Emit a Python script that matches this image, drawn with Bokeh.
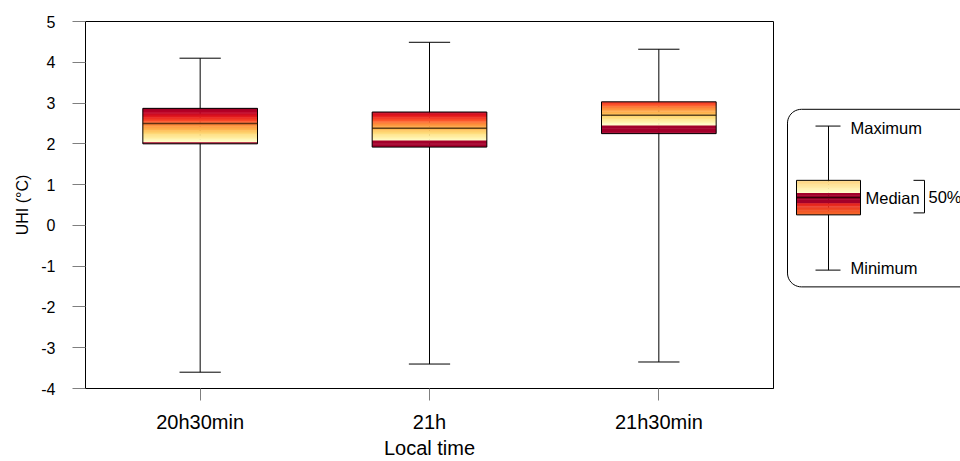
import numpy as np
from bokeh.plotting import figure
from bokeh.models import Range1d, FactorRange, FixedTicker, ColumnDataSource
from bokeh.transform import dodge
from bokeh.layouts import row
from bokeh.embed import file_html
from bokeh.resources import INLINE
from bokeh.core.properties import value

# ---------------- data ----------------
categories = ["20h30min", "21h", "21h30min"]
uhi_min = [-3.60, -3.40, -3.35]
uhi_q1 = [2.00, 1.92, 2.25]
uhi_median = [2.50, 2.38, 2.70]
uhi_q3 = [2.87, 2.78, 3.03]
uhi_max = [4.10, 4.49, 4.32]
y_ticks = [-4, -3, -2, -1, 0, 1, 2, 3, 4, 5]
y_tick_labels = ["-4", "-3", "-2", "-1", "0", "1", "2", "3", "4", "5"]
legend_labels = ["Maximum", "Median", "Minimum", "50%"]

# ---------------- styling ----------------
FONT_NAME = "Liberation Sans"
FONT = value(FONT_NAME)
PAL = ["#ffffcc", "#ffeda0", "#fed976", "#feb24c", "#fd8d3c",
       "#fc4e2a", "#e31a1c", "#bd0026", "#a00026"]
DARK = "#a3002b"
grad_reset = [2.05, 2.075, 2.46]   # level where the colour ramp restarts
GRAD_PERIOD = 0.82
TICK_GREY = "#7f7f7f"

MAIN_W, LEG_W, H = 780, 180, 461
FRAME_TOP, FRAME_BOTTOM = 21, 393


def hex2rgb(h):
    return tuple(int(h[i:i + 2], 16) for i in (1, 3, 5))


def mix(c1, c2, t):
    a, b = hex2rgb(c1), hex2rgb(c2)
    return "#%02x%02x%02x" % tuple(int(round(a[k] + (b[k] - a[k]) * t)) for k in range(3))


def ramp(t):
    t = min(max(t, 0.0), 1.0)
    pos = t * (len(PAL) - 1)
    i = min(int(np.floor(pos)), len(PAL) - 2)
    return mix(PAL[i], PAL[i + 1], pos - i)


def box_color(y, reset):
    if y < reset:
        return DARK
    return ramp((y - reset) / GRAD_PERIOD)


# ---------------- main plot ----------------
p = figure(width=MAIN_W, height=H, title=None,
           x_range=FactorRange(factors=categories, range_padding=0),
           y_range=Range1d(-4, 5),
           output_backend="svg", toolbar_location=None,
           min_border_left=85, min_border_right=7,
           min_border_top=FRAME_TOP, min_border_bottom=H - FRAME_BOTTOM)
p.xgrid.visible = False
p.ygrid.visible = False
p.outline_line_color = "black"
p.outline_line_width = 1
p.outline_line_alpha = 1
p.background_fill_color = "white"
p.border_fill_color = "white"

yax = p.yaxis[0]
yax.ticker = FixedTicker(ticks=y_ticks, minor_ticks=[])
yax.major_label_overrides = {t: l for t, l in zip(y_ticks, y_tick_labels)}
yax.major_tick_in = 0
yax.major_tick_out = 13
yax.major_tick_line_color = TICK_GREY
yax.minor_tick_line_color = None
yax.axis_line_color = "black"
yax.major_label_standoff = 17
yax.major_label_text_font = FONT_NAME
yax.major_label_text_font_size = "16px"
yax.major_label_text_color = "black"
yax.axis_label = "UHI (°C)"
yax.axis_label_text_font = FONT_NAME
yax.axis_label_text_font_size = "16px"
yax.axis_label_text_font_style = "normal"
yax.axis_label_text_color = "black"
yax.axis_label_standoff = 7

xax = p.xaxis[0]
xax.major_tick_in = 0
xax.major_tick_out = 12
xax.major_tick_line_color = TICK_GREY
xax.axis_line_color = "black"
xax.major_label_standoff = 10
xax.major_label_text_font = FONT_NAME
xax.major_label_text_font_size = "20px"
xax.major_label_text_color = "black"
xax.axis_label = "Local time"
xax.axis_label_text_font = FONT_NAME
xax.axis_label_text_font_size = "20px"
xax.axis_label_text_font_style = "normal"
xax.axis_label_text_color = "black"
xax.axis_label_standoff = 1

src = ColumnDataSource(dict(cat=categories, lo=uhi_min, q1=uhi_q1, med=uhi_median,
                            q3=uhi_q3, hi=uhi_max))

# whiskers
p.segment(x0="cat", y0="lo", x1="cat", y1="hi", source=src,
          line_color="black", line_width=1)
for col in ("lo", "hi"):
    p.segment(x0=dodge("cat", -0.09, range=p.x_range), y0=col,
              x1=dodge("cat", 0.09, range=p.x_range), y1=col, source=src,
              line_color="black", line_width=1)

# gradient fill of the boxes
STEP = 0.02
gx, gb, gt, gc = [], [], [], []
for cat, lo, hi, reset in zip(categories, uhi_q1, uhi_q3, grad_reset):
    y = lo
    while y < hi - 1e-9:
        y1 = min(y + STEP, hi)
        gx.append(cat)
        gb.append(y)
        gt.append(min(y + STEP * 1.6, hi))
        gc.append(box_color((y + y1) / 2, reset))
        y = y1
p.vbar(x=gx, width=0.5, bottom=gb, top=gt, fill_color=gc, line_color=None)

# box outline + median
p.vbar(x="cat", width=0.5, bottom="q1", top="q3", source=src,
       fill_color=None, line_color="black", line_width=1)
p.segment(x0=dodge("cat", -0.25, range=p.x_range), y0="med",
          x1=dodge("cat", 0.25, range=p.x_range), y1="med", source=src,
          line_color="#2a1a05", line_alpha=0.75, line_width=1.5)

# ---------------- legend panel (coordinates = picture pixels) ----------------
# the row aligns this panel's frame with the main frame (FRAME_TOP..FRAME_BOTTOM)
lg = figure(width=LEG_W, height=H, title=None,
            x_range=Range1d(MAIN_W, MAIN_W + LEG_W),
            y_range=Range1d(FRAME_BOTTOM, FRAME_TOP),
            output_backend="svg", toolbar_location=None,
            x_axis_location=None, y_axis_location=None,
            min_border_left=0, min_border_right=0,
            min_border_top=FRAME_TOP, min_border_bottom=H - FRAME_BOTTOM)
lg.xgrid.visible = False
lg.ygrid.visible = False
lg.outline_line_color = None
lg.background_fill_color = "white"
lg.border_fill_color = "white"


def rounded_rect(x0, x1, y0, y1, r, n=12):
    xs, ys = [], []
    corners = [(x1 - r, y0 + r, -np.pi / 2, 0),
               (x1 - r, y1 - r, 0, np.pi / 2),
               (x0 + r, y1 - r, np.pi / 2, np.pi),
               (x0 + r, y0 + r, np.pi, 1.5 * np.pi)]
    for cx, cy, a0, a1 in corners:
        a = np.linspace(a0, a1, n)
        xs += list(cx + r * np.cos(a))
        ys += list(cy + r * np.sin(a))
    return xs, ys


rx, ry = rounded_rect(787, 1000, 110, 290, 14)
lg.patch(rx, ry, fill_color="white", line_color="black", line_width=1)

# legend whisker
lg.segment(x0=[828, 815, 815], y0=[127, 127, 273], x1=[828, 840, 840], y1=[273, 127, 273],
           line_color="black", line_width=1)

# legend box gradient
BX0, BX1, BY0, BY1 = 796, 860, 182, 217
leg_stops = [(182, "#fed27a"), (195, "#ffffcc"), (195.01, DARK), (205, DARK),
             (205.01, "#e31a1c"), (217, "#f8702c")]


def leg_color(y):
    for (ya, ca), (yb, cb) in zip(leg_stops[:-1], leg_stops[1:]):
        if ya <= y <= yb:
            return mix(ca, cb, (y - ya) / (yb - ya))
    return leg_stops[-1][1]


lb, lt, lc = [], [], []
yy = float(BY0)
while yy < BY1:
    y1 = min(yy + 0.8, BY1)
    lb.append(yy)
    lt.append(min(yy + 1.3, BY1))
    lc.append(leg_color((yy + y1) / 2))
    yy = y1
lg.quad(left=BX0, right=BX1, top=lb, bottom=lt, fill_color=lc, line_color=None)
lg.quad(left=BX0, right=BX1, top=BY0, bottom=BY1, fill_color=None,
        line_color="black", line_width=1)
lg.segment(x0=BX0, y0=199.3, x1=BX1, y1=199.3, line_color="#1a0000",
           line_alpha=0.8, line_width=1.5)

# bracket
lg.line(x=[913, 924, 924, 913], y=[182, 182, 215, 215], line_color="black", line_width=1)

lg.text(x=[850, 865, 850, 928], y=[129, 200, 271, 199], text=legend_labels,
        text_font=FONT, text_font_size="16.5px", text_baseline="middle",
        text_align="left", text_color="black")

layout = row(p, lg)
open("out.html", "w").write(file_html(layout, INLINE))
